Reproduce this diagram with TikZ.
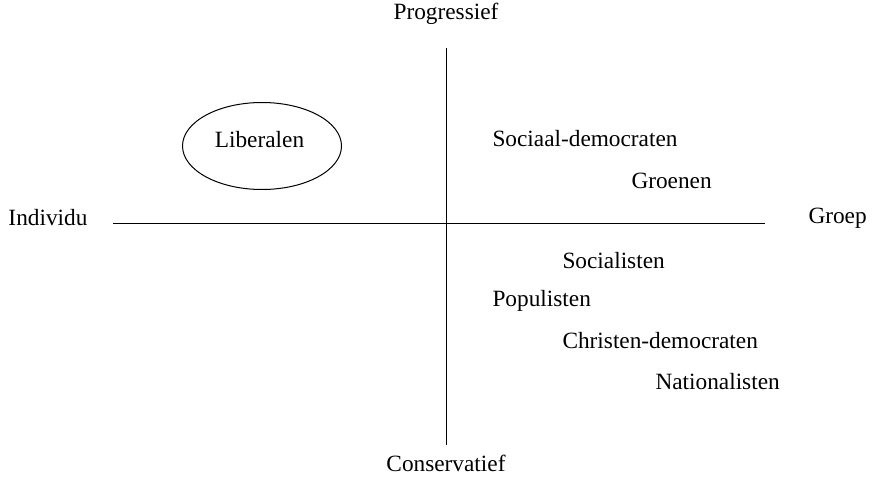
\documentclass[tikz,border=0pt]{standalone}
\usepackage{fontspec}
\setmainfont{Liberation Serif}
\usetikzlibrary{shapes.geometric}

\begin{document}
\begin{tikzpicture}[x=1pt,y=-1pt,line width=1pt,
    party node/.style={anchor=west,inner sep=0pt,font=\fontsize{23.3}{28}\selectfont},
    axis node/.style={inner sep=0pt,font=\fontsize{23.3}{28}\selectfont}]
                        \useasboundingbox (0,0) rectangle (882,476);

                        % axes
                        \coordinate (top) at (446,48);
                        \coordinate (bottom) at (446,445);
                        \coordinate (left) at (113,223);
                        \coordinate (right) at (765,223);
                        \draw (top) -- (bottom);
                        \draw (left) -- (right);

                        \node[axis node] (prog) at (446,14) {Progressief};
                        \node[axis node] (cons) at (446,463) {Conservatief};
                        \node[axis node,anchor=west] (ind) at (8,218) {Individu};
                        \node[axis node,anchor=west] (groep) at (808,218) {Groep};

                        % parties
                        \node[draw,ellipse,minimum width=159,minimum height=87] (ring) at (262,146) {};
                        \node[axis node] (lib) at (259.5,140) {Liberalen};
                        \node[party node] (sd) at (492,139) {Sociaal-democraten};
                        \node[party node] (groen) at (631,181) {Groenen};
                        \node[party node] (soc) at (562,261) {Socialisten};
                        \node[party node] (pop) at (492,301) {Populisten};
                        \node[party node] (cda) at (562,341) {Christen-democraten};
                        \node[party node] (nat) at (655,382) {Nationalisten};

                    \end{tikzpicture}
\end{document}
